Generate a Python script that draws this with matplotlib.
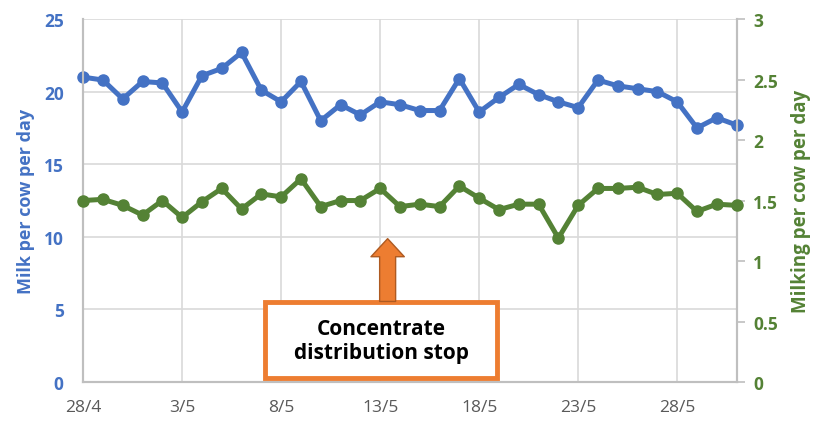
import matplotlib.pyplot as plt
import numpy as np

# daily values, 28/4 to 31/5
days = np.arange(34)
milk = [21.0, 20.8, 19.5, 20.7, 20.6, 18.6, 21.1, 21.6, 22.7, 20.1,
        19.3, 20.7, 18.0, 19.1, 18.4, 19.3, 19.1, 18.7, 18.7, 20.9,
        18.6, 19.6, 20.5, 19.8, 19.3, 18.9, 20.8, 20.4, 20.2, 20.0,
        19.3, 17.5, 18.2, 17.7]
milkings = [1.50, 1.51, 1.46, 1.38, 1.50, 1.36, 1.49, 1.60, 1.43, 1.555,
            1.53, 1.68, 1.45, 1.50, 1.50, 1.60, 1.45, 1.47, 1.45, 1.62,
            1.52, 1.425, 1.47, 1.47, 1.19, 1.46, 1.60, 1.60, 1.61, 1.55,
            1.56, 1.41, 1.47, 1.46]
tick_days = [0, 5, 10, 15, 20, 25, 30]
tick_labels = ["28/4", "3/5", "8/5", "13/5", "18/5", "23/5", "28/5"]

BLUE = "#4472C4"
GREEN = "#548235"
GREY = "#595959"
ORANGE = "#ED7D31"
plt.rcParams["font.family"] = ["Open Sans", "DejaVu Sans"]

fig = plt.figure(figsize=(8.23, 4.27), dpi=100)
ax = fig.add_axes([0.101, 0.103, 0.794, 0.850])
ax2 = ax.twinx()

ax.plot(days, milk, color=BLUE, lw=3.6, marker="o", ms=8, clip_on=False, zorder=3)
ax2.plot(days, milkings, color=GREEN, lw=3.6, marker="o", ms=8, clip_on=False, zorder=3)

ax.set_xlim(0, 33)
ax.set_ylim(0, 25)
ax2.set_ylim(0, 3)
ax.set_yticks(np.arange(0, 26, 5))
ax2.set_yticks(np.arange(0, 3.01, 0.5))
ax2.set_yticklabels(["0", "0.5", "1", "1.5", "2", "2.5", "3"])
ax.set_xticks(tick_days)
ax.set_xticklabels(tick_labels)

ax.grid(True, color="#D9D9D9", lw=1.2)
ax.set_axisbelow(True)
for a in (ax, ax2):
    a.spines["top"].set_visible(False)
    for s in ("left", "right", "bottom"):
        a.spines[s].set_color("#BFBFBF")
        a.spines[s].set_linewidth(1.5)
ax.tick_params(axis="y", length=0, pad=14, labelsize=12.5, labelcolor=BLUE)
ax.tick_params(axis="x", length=0, pad=12, labelsize=12.5, labelcolor=GREY)
ax2.tick_params(axis="y", length=6, width=1.2, color="#BFBFBF", pad=6,
                labelsize=12.5, labelcolor=GREEN)
for lab in ax.get_yticklabels():
    lab.set_fontweight("bold")
for lab in ax2.get_yticklabels():
    lab.set_fontweight("bold")

ax.set_ylabel("Milk per cow per day", color=BLUE, fontsize=13, fontweight="bold", labelpad=6)
ax2.set_ylabel("Milking per cow per day", color=GREEN, fontsize=13.5, fontweight="bold", labelpad=9)

# annotation box and arrow
box = plt.Rectangle((0.278, 0.011), 0.355, 0.21, transform=ax.transAxes,
                    facecolor="white", edgecolor=ORANGE, lw=3.5, clip_on=False, zorder=5)
ax2.add_patch(box)
ax2.text(0.456, 0.114, "Concentrate\ndistribution stop", transform=ax.transAxes,
         ha="center", va="center", fontsize=15, fontweight="bold", color="black",
         linespacing=1.2, zorder=6)
ax2.annotate("", xy=(0.466, 0.395), xytext=(0.466, 0.222),
             xycoords=ax.transAxes, textcoords=ax.transAxes,
             arrowprops=dict(arrowstyle="simple,head_length=13,head_width=24,tail_width=11.5",
                             mutation_scale=1, fc=ORANGE, ec="#AE5A21", lw=1,
                             shrinkA=0, shrinkB=0), zorder=6)

fig.savefig("out.png", dpi=100)
